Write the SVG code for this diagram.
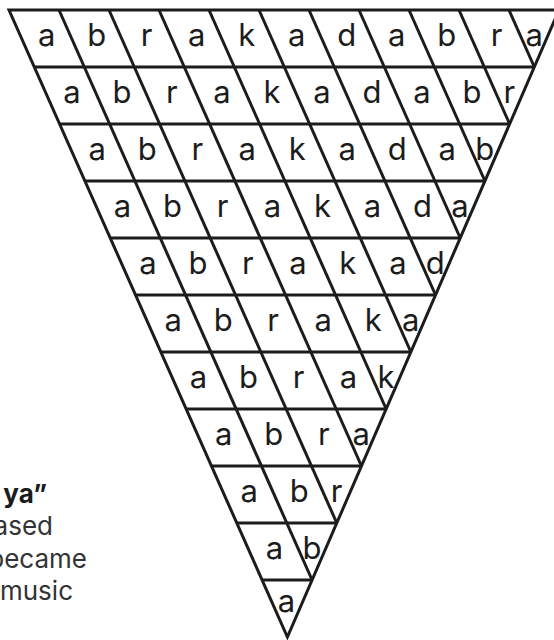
<svg xmlns="http://www.w3.org/2000/svg" width="554" height="640" viewBox="0 0 554 640">
<style>
.ln{stroke:#1c1c1c;stroke-width:3;fill:none;stroke-linecap:butt}
.edge{stroke:#1c1c1c;stroke-width:3;fill:none;stroke-linejoin:miter;stroke-miterlimit:20}
.lt{font-family:Inter,"Liberation Sans",sans-serif;font-size:31px;fill:#1c1c1c;text-anchor:middle}
.cap{font-family:Inter,"Liberation Sans",sans-serif;font-size:26px;text-anchor:end}
.b{font-weight:700;fill:#1c1c1c}
.r{font-weight:400;fill:#333333}
</style>
<rect width="554" height="640" fill="#ffffff"/>
<g id="caption">
<text class="cap b" x="47" y="503">ya”</text>
<text class="cap r" x="53" y="535">ased</text>
<text class="cap r" x="87" y="568">became</text>
<text class="cap r" x="73" y="600">music</text>
</g>
<g id="triangle">
<polygon class="edge" points="9,10 559,10 287.39,637"/>
</g>
<g id="grid">
<line class="ln" x1="34.31" y1="67" x2="534.31" y2="67"/>
<line class="ln" x1="59.62" y1="124" x2="509.62" y2="124"/>
<line class="ln" x1="84.92" y1="181" x2="484.92" y2="181"/>
<line class="ln" x1="110.23" y1="238" x2="460.23" y2="238"/>
<line class="ln" x1="135.54" y1="295" x2="435.54" y2="295"/>
<line class="ln" x1="160.85" y1="352" x2="410.85" y2="352"/>
<line class="ln" x1="186.16" y1="409" x2="386.16" y2="409"/>
<line class="ln" x1="211.46" y1="466" x2="361.46" y2="466"/>
<line class="ln" x1="236.77" y1="523" x2="336.77" y2="523"/>
<line class="ln" x1="262.08" y1="580" x2="312.08" y2="580"/>
<line class="ln" x1="59" y1="10" x2="312.08" y2="580"/>
<line class="ln" x1="109" y1="10" x2="336.77" y2="523"/>
<line class="ln" x1="159" y1="10" x2="361.46" y2="466"/>
<line class="ln" x1="209" y1="10" x2="386.16" y2="409"/>
<line class="ln" x1="259" y1="10" x2="410.85" y2="352"/>
<line class="ln" x1="309" y1="10" x2="435.54" y2="295"/>
<line class="ln" x1="359" y1="10" x2="460.23" y2="238"/>
<line class="ln" x1="409" y1="10" x2="484.92" y2="181"/>
<line class="ln" x1="459" y1="10" x2="509.62" y2="124"/>
<line class="ln" x1="509" y1="10" x2="534.31" y2="67"/>
</g>
<g id="letters">
<g id="row0">
<text class="lt" x="46.65" y="46">a</text><text class="lt" x="96.65" y="46">b</text><text class="lt" x="146.65" y="46">r</text><text class="lt" x="196.65" y="46">a</text><text class="lt" x="246.65" y="46">k</text><text class="lt" x="296.65" y="46">a</text><text class="lt" x="346.65" y="46">d</text><text class="lt" x="396.65" y="46">a</text><text class="lt" x="446.65" y="46">b</text><text class="lt" x="496.65" y="46">r</text><text class="lt" x="534.1" y="46">a</text>
</g>
<g id="row1">
<text class="lt" x="71.96" y="103">a</text><text class="lt" x="121.96" y="103">b</text><text class="lt" x="171.96" y="103">r</text><text class="lt" x="221.96" y="103">a</text><text class="lt" x="271.96" y="103">k</text><text class="lt" x="321.96" y="103">a</text><text class="lt" x="371.96" y="103">d</text><text class="lt" x="421.96" y="103">a</text><text class="lt" x="471.96" y="103">b</text><text class="lt" x="509.41" y="103">r</text>
</g>
<g id="row2">
<text class="lt" x="97.27" y="160">a</text><text class="lt" x="147.27" y="160">b</text><text class="lt" x="197.27" y="160">r</text><text class="lt" x="247.27" y="160">a</text><text class="lt" x="297.27" y="160">k</text><text class="lt" x="347.27" y="160">a</text><text class="lt" x="397.27" y="160">d</text><text class="lt" x="447.27" y="160">a</text><text class="lt" x="484.72" y="160">b</text>
</g>
<g id="row3">
<text class="lt" x="122.58" y="217">a</text><text class="lt" x="172.58" y="217">b</text><text class="lt" x="222.58" y="217">r</text><text class="lt" x="272.58" y="217">a</text><text class="lt" x="322.58" y="217">k</text><text class="lt" x="372.58" y="217">a</text><text class="lt" x="422.58" y="217">d</text><text class="lt" x="460.03" y="217">a</text>
</g>
<g id="row4">
<text class="lt" x="147.88" y="274">a</text><text class="lt" x="197.88" y="274">b</text><text class="lt" x="247.88" y="274">r</text><text class="lt" x="297.88" y="274">a</text><text class="lt" x="347.88" y="274">k</text><text class="lt" x="397.88" y="274">a</text><text class="lt" x="435.34" y="274">d</text>
</g>
<g id="row5">
<text class="lt" x="173.19" y="331">a</text><text class="lt" x="223.19" y="331">b</text><text class="lt" x="273.19" y="331">r</text><text class="lt" x="323.19" y="331">a</text><text class="lt" x="373.19" y="331">k</text><text class="lt" x="410.64" y="331">a</text>
</g>
<g id="row6">
<text class="lt" x="198.5" y="388">a</text><text class="lt" x="248.5" y="388">b</text><text class="lt" x="298.5" y="388">r</text><text class="lt" x="348.5" y="388">a</text><text class="lt" x="385.95" y="388">k</text>
</g>
<g id="row7">
<text class="lt" x="223.81" y="445">a</text><text class="lt" x="273.81" y="445">b</text><text class="lt" x="323.81" y="445">r</text><text class="lt" x="361.26" y="445">a</text>
</g>
<g id="row8">
<text class="lt" x="249.12" y="502">a</text><text class="lt" x="299.12" y="502">b</text><text class="lt" x="336.57" y="502">r</text>
</g>
<g id="row9">
<text class="lt" x="274.42" y="559">a</text><text class="lt" x="311.88" y="559">b</text>
</g>
<g id="row10">
<text class="lt" x="286.5" y="612">a</text>
</g>
</g>
</svg>
